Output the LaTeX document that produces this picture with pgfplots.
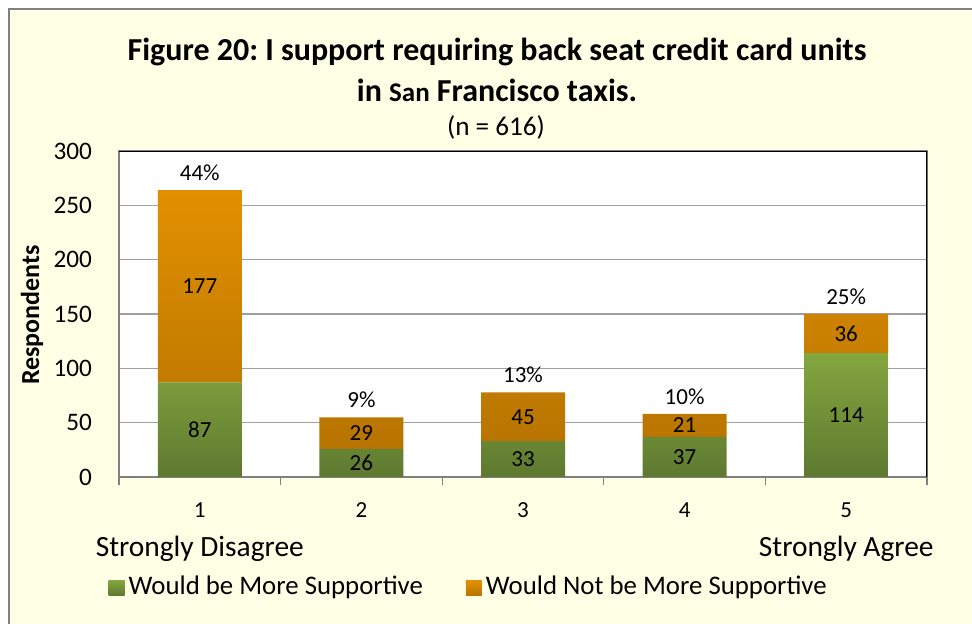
\documentclass[border=0pt]{standalone}
\usepackage{pgfplots}
\pgfplotsset{compat=1.18}
\usepackage{fontspec}
\setmainfont{Carlito}
\frenchspacing
\definecolor{bgy}{HTML}{FFFFE5}
\definecolor{gtop}{RGB}{132,166,62}
\definecolor{gbot}{RGB}{94,121,48}
\definecolor{otop}{RGB}{226,144,0}
\definecolor{obot}{RGB}{183,116,0}
\definecolor{gridg}{RGB}{160,160,160}
\definecolor{frameg}{RGB}{128,128,128}
\newcommand{\tf}{\fontsize{11.5}{14}\selectfont}
\newcommand{\yf}{\fontsize{12.6}{14}\selectfont}
\newcommand{\cf}{\fontsize{14.7}{19.5}\selectfont}
\newcommand{\lf}{\fontsize{13.4}{16}\selectfont}
\begin{document}
\begin{tikzpicture}
\path[use as bounding box] (0,0) rectangle (486pt,-311.5pt);
\clip (0,0) rectangle (486pt,-311.5pt);
\fill[white] (0,0) rectangle (486pt,-311.5pt);
\filldraw[fill=bgy, draw=frameg, line width=1pt] (4.5pt,-4.5pt) rectangle (495pt,-320pt);
\node[font=\bfseries\fontsize{16}{20}\selectfont] at (248.5pt,-25.8pt) {Figure 20: I support requiring back seat credit card units};
\node[font=\bfseries\fontsize{16}{20}\selectfont] at (248.5pt,-45pt) {in {\fontsize{13.5}{16}\selectfont San} Francisco taxis.};
\node[font=\fontsize{13.6}{16}\selectfont] at (248pt,-63.5pt) {(n = 616)};
\node[font=\bfseries\fontsize{13}{16}\selectfont, rotate=90] at (16pt,-157.5pt) {Respondents};
\begin{axis}[
  at={(59.5pt,-238.5pt)}, anchor=south west,
  scale only axis, width=404pt, height=163pt,
  ybar stacked, bar width=42pt,
  xmin=0.5, xmax=5.5, ymin=0, ymax=300,
  /pgf/number format/assume math mode=true,
  axis background/.style={fill=white},
  xtick={1,2,3,4,5},
  xticklabels={{{\tf 1}\\Strongly Disagree},{\tf 2},{\tf 3},{\tf 4},{{\tf 5}\\Strongly Agree}},
  xticklabel style={align=center, font=\cf, yshift=-5pt},
  major x tick style={draw=none},
  minor xtick={0.5,1.5,2.5,3.5,4.5,5.5},
  minor tick length=4pt,
  xtick align=outside,
  minor x tick style={frameg, line width=0.6pt},
  ytick={0,50,...,300},
  yticklabel style={font=\yf, xshift=-10pt},
  major y tick style={draw=none},
  ymajorgrids, grid style={gridg, line width=0.6pt},
  axis line style={frameg, line width=0.8pt},
  tick pos=left,
  legend style={at={(0.434,-0.337)}, anchor=center, legend columns=2, draw=none, fill=none, font=\lf,
    nodes={inner xsep=2pt},
    /tikz/every even column/.append style={column sep=19.5pt}},
  legend image code/.code={\path[#1] (0pt,-4.3pt) rectangle (8pt,3.2pt);},
]
\addplot[draw=none, top color=gtop, bottom color=gbot] coordinates {(1,87) (2,26) (3,33) (4,37) (5,114)};
\addlegendentry{Would be More Supportive}
\addplot[draw=none, top color=otop, bottom color=obot] coordinates {(1,177) (2,29) (3,45) (4,21) (5,36)};
\addlegendentry{Would Not be More Supportive}
\draw[black, line width=0.8pt] (rel axis cs:0,1) -- (rel axis cs:1,1) -- (rel axis cs:1,0);
\end{axis}
\begin{axis}[
  at={(59.5pt,-238.5pt)}, anchor=south west,
  scale only axis, width=404pt, height=163pt,
  xmin=0.5, xmax=5.5, ymin=0, ymax=300, hide axis, clip=false]
\addplot[only marks, mark=*, mark size=0pt, mark options={draw=none,fill=none},
  nodes near coords, point meta=explicit symbolic,
  nodes near coords align=center, every node near coord/.append style={font=\tf}]
  table[meta=lab] {
x y lab
1 43.5 87
1 175.5 177
2 13 26
2 40.5 29
3 16.5 33
3 55.5 45
4 18.5 37
4 47.5 21
5 57 114
5 132 36
};
\addplot[only marks, mark=*, mark size=0pt, mark options={draw=none,fill=none},
  nodes near coords, point meta=explicit symbolic,
  every node near coord/.append style={font=\tf, anchor=south, yshift=1.2pt}]
  table[meta=lab] {
x y lab
1 264 44\%
2 55 9\%
3 78 13\%
4 58 10\%
5 150 25\%
};
\end{axis}
\end{tikzpicture}
\end{document}
